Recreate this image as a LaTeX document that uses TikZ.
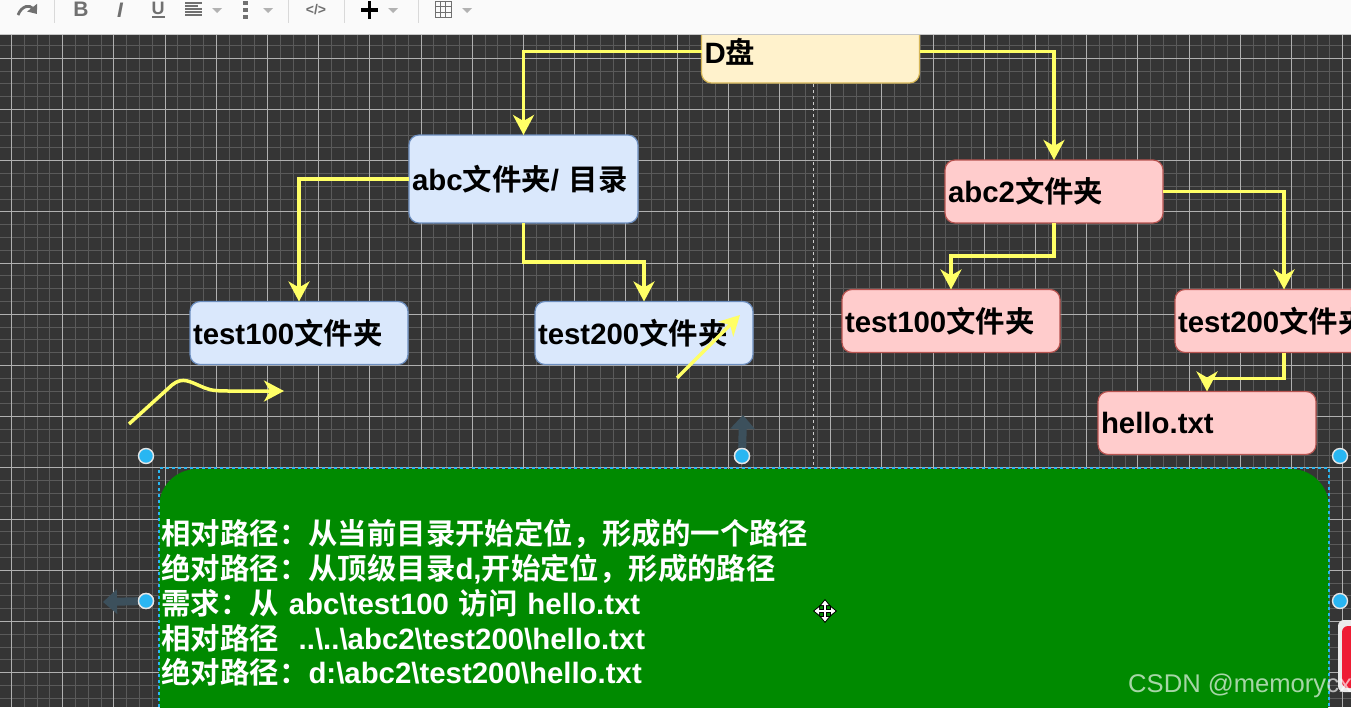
\documentclass[tikz,border=0pt]{standalone}
\usepackage{fontspec}
\setmainfont{Liberation Sans}
\newfontfamily\cjk{Noto Sans CJK SC}[BoldFont={Noto Sans CJK SC Bold}]
\usetikzlibrary{arrows.meta}

\definecolor{canvasbg}{HTML}{353535}
\definecolor{gridminor}{HTML}{5A5A5A}
\definecolor{gridmajor}{HTML}{B0B0B0}
\definecolor{bluefill}{HTML}{DAE8FC}
\definecolor{blueline}{HTML}{6C8EBF}
\definecolor{pinkfill}{HTML}{FFCCCC}
\definecolor{pinkline}{HTML}{B85450}
\definecolor{creamfill}{HTML}{FFF2CC}
\definecolor{creamline}{HTML}{D6B656}
\definecolor{greenfill}{HTML}{008A00}
\definecolor{wireyellow}{HTML}{FFFF66}
\definecolor{handleblue}{HTML}{29B6F2}
\definecolor{ghostarrow}{HTML}{3C505C}
\definecolor{toolgrey}{HTML}{707070}
\definecolor{tabred}{HTML}{EE1C34}

\tikzset{
  folderbox/.style={draw, rounded corners=10, line width=1.2, outer sep=0, inner xsep=3, inner ysep=0,
    text width=212, minimum height=63, align=left, text=black, font=\fontsize{29.4}{35}\selectfont\bfseries},
  bluebox/.style={folderbox, fill=bluefill, draw=blueline},
  pinkbox/.style={folderbox, fill=pinkfill, draw=pinkline},
  creambox/.style={folderbox, fill=creamfill, draw=creamline},
  wire/.style={draw=wireyellow, line width=3.5, -{Stealth[length=20, width=21, inset=6]}},
  handle/.style={circle, draw=white!90!black, fill=handleblue, line width=1.4, minimum size=15, inner sep=0},
  ghost/.style={draw=ghostarrow, line width=8, -{Triangle[length=14, width=24]}},
  toolbtn/.style={text=toolgrey, inner sep=0, font=\fontsize{21}{21}\selectfont\bfseries},
  toolmark/.style={fill=black!30, draw=none},
}

\begin{document}
\begin{tikzpicture}[x=1pt, y=-1pt]

\useasboundingbox (0,0) rectangle (1351,707);
\clip (0,0) rectangle (1351,707);

% canvas and grid
\fill[canvasbg] (0,0) rectangle (1351,707);
\foreach \k in {0,...,106} {
  \draw[gridminor, line width=1] ({round(-1.8+12.8*\k)+0.5},0) -- ({round(-1.8+12.8*\k)+0.5},707);
}
\foreach \k in {0,...,56} {
  \draw[gridminor, line width=1] (0,{round(6.5+12.8*\k)+0.5}) -- (1351,{round(6.5+12.8*\k)+0.5});
}
\foreach \k in {0,...,26} {
  \draw[gridmajor, line width=1] ({round(-1.8+12.8*(4*\k+1))+0.5},0) -- ({round(-1.8+12.8*(4*\k+1))+0.5},707);
}
\foreach \k in {0,...,13} {
  \draw[gridmajor, line width=1] (0,{round(6.5+12.8*4*\k)+0.5}) -- (1351,{round(6.5+12.8*4*\k)+0.5});
}

% boxes
\node[creambox] (dpan) at (810.5,51.5) {\raisebox{1.5pt}{D{\cjk 盘}}};
\node[bluebox, minimum height=88, text width=223] (abc) at (523.5,179) {abc{\cjk 文件夹}/ {\cjk 目录}};
\node[bluebox] (bluehundred) at (299,333) {test100{\cjk 文件夹}};
\node[bluebox] (bluetwohundred) at (644,333) {test200{\cjk 文件夹}};
\node[pinkbox] (abctwo) at (1054,191.5) {abc2{\cjk 文件夹}};
\node[pinkbox] (pinkhundred) at (951,321) {test100{\cjk 文件夹}};
\node[pinkbox] (pinktwohundred) at (1284,321) {test200{\cjk 文件夹}};
\node[pinkbox] (hello) at (1207,423) {hello.txt};

% guide line
\coordinate (guidetop) at (813.5,84);
\coordinate (guidebottom) at (813.5,468);
\draw[white!80!black, dashed, line width=1.4] (guidetop) -- (guidebottom);

% connectors
\draw[wire] (dpan.west) -| (abc.north);
\draw[wire] (dpan.east) -| (abctwo.north);
\draw[wire] (abc.west) -| (bluehundred.north);
\draw[wire] (abc.south) -- ++(0,39) -| (bluetwohundred.north);
\draw[wire] (abctwo.south) -- ++(0,33) -| (pinkhundred.north);
\draw[wire] (abctwo.east) -| (pinktwohundred.north);
\draw[wire] (pinktwohundred.south) -- ++(0,26) -| (hello.north);

% free arrows
\coordinate (curvestart) at (129,424);
\coordinate (curveend) at (284,391);
\coordinate (linestart) at (677,378);
\coordinate (lineend) at (740,315);
\draw[wire] (curvestart) -- (172,385) .. controls (183,376) and (190,382) .. (205,388) .. controls (212,391) and (220,391) .. (232,391) -- (curveend);
\draw[wire] (linestart) -- (lineend);

% note
\node[fill=greenfill, rounded corners=38, minimum width=1170, minimum height=268, inner xsep=2.5, inner ysep=0,
  text width=1165, align=left, text=white, font=\fontsize{29.4}{34.7}\selectfont\bfseries] (note) at (744,603) {%
  {\cjk 相对路径：从当前目录开始定位，形成的一个路径}\\
  {\cjk 绝对路径：从顶级目录}d,{\cjk 开始定位，形成的路径}\\
  {\cjk 需求：从} abc\textbackslash test100 {\cjk 访问} hello.txt\\
  {\cjk 相对路径}\ \ ..\textbackslash..\textbackslash abc2\textbackslash test200\textbackslash hello.txt\\
  {\cjk 绝对路径：}d:\textbackslash abc2\textbackslash test200\textbackslash hello.txt};
\node[draw=handleblue, dashed, line width=1.2, minimum width=1170, minimum height=268, inner sep=0] (selection) at (744,602) {};

% handles
\coordinate (ghostup) at (743,415);
\coordinate (ghostleft) at (103,602);
\node[handle] (handletop) at (742,456) {};
\node[handle] (handleleft) at (146,601) {};
\draw[ghost] (handletop) -- (ghostup);
\draw[ghost] (handleleft) -- (ghostleft);
\node[handle] at (handletop) {};
\node[handle] at (handleleft) {};
\node[handle] (handletopleft) at (146,456) {};
\node[handle] (handletopright) at (1340,456) {};
\node[handle] (handleright) at (1340,601) {};

% move cursor
\coordinate (cursor) at (825,611);
\foreach \dx/\dy in {12/0,-12/0,0/12,0/-12} {
  \draw[black, line width=3.5, -{Triangle[length=7, width=11]}] (cursor) -- ++(\dx,\dy);
}
\foreach \dx/\dy in {10.5/0,-10.5/0,0/10.5,0/-10.5} {
  \draw[white, line width=1.3, -{Triangle[length=4.5, width=7]}] (cursor) -- ++(\dx,\dy);
}

% red tab at the right edge
\fill[white!92!black, rounded corners=6] (1338,620) rectangle (1365,692);
\fill[tabred, rounded corners=6] (1342,626) rectangle (1365,688);

% toolbar
\fill[white!98!black] (0,0) rectangle (1351,34);
\draw[black!22, line width=1] (0,34.5) -- (1351,34.5);
\foreach \x in {54,288,344,418} {
  \draw[black!15, line width=1] (\x,0) -- (\x,23);
}
\coordinate (redostart) at (18,15);
\coordinate (redoend) at (37,14);
\draw[toolgrey, line width=2.8, -{Triangle[length=8, width=12]}] (redostart) .. controls (22,5) and (30,5) .. (redoend);
\node[toolbtn] (boldbtn) at (81,9) {B};
\node[toolbtn, font=\fontsize{21}{21}\selectfont\bfseries\itshape] (italicbtn) at (120,10) {I};
\node[toolbtn, font=\fontsize{18}{18}\selectfont\bfseries] (underlinebtn) at (158,8) {U};
\coordinate (underlinea) at (152,17);
\coordinate (underlineb) at (165,17);
\draw[toolgrey, line width=1.3] (underlinea) -- (underlineb);
\foreach \y/\w in {3/17,6/13,9/17,12/17,15/17} {
  \draw[toolgrey, line width=1.1] (185,\y) -- ++(\w,0);
}
\foreach \y in {3,10,17} {
  \fill[toolgrey] (243,{\y-2}) rectangle (248,{\y+2});
}
\node[toolbtn, font=\fontsize{14}{14}\selectfont\bfseries] (codebtn) at (316,10) {</>};
\coordinate (plustop) at (369.5,1);
\coordinate (plusbottom) at (369.5,19);
\coordinate (plusleft) at (361,10);
\coordinate (plusright) at (378,10);
\draw[black, line width=3.5] (plustop) -- (plusbottom);
\draw[black, line width=3.5] (plusleft) -- (plusright);
\foreach \x in {217,268,393,467} {
  \fill[toolmark] ({\x-5},8) -- ({\x+5},8) -- (\x,13) -- cycle;
}
\draw[toolgrey, line width=1] (435,1.5) rectangle (451,17.5);
\foreach \t in {5.3,10.7} {
  \draw[toolgrey, line width=1] ({435+\t},1.5) -- ({435+\t},17.5);
  \draw[toolgrey, line width=1] (435,{1.5+\t}) -- (451,{1.5+\t});
}

% watermark
\node[anchor=base west, inner sep=0, text=white, text opacity=0.65, font=\fontsize{25.6}{26}\selectfont] (watermark) at (1128,692) {CSDN @memorycx};

\end{tikzpicture}
\end{document}
